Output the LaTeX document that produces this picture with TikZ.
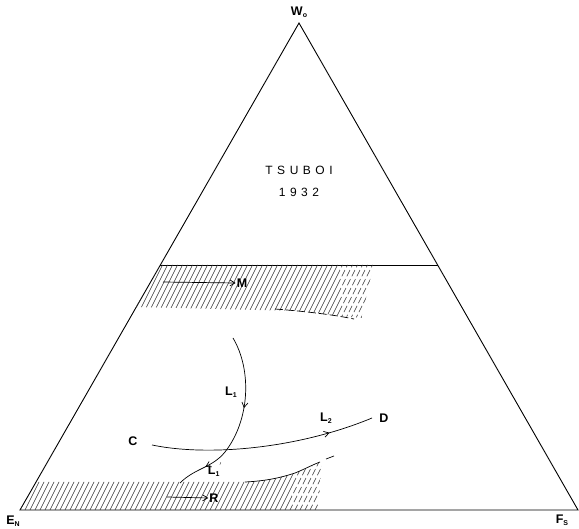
\documentclass[tikz,border=0pt]{standalone}
\usepackage{fontspec}
\setmainfont{Liberation Sans}
\usetikzlibrary{decorations.markings,arrows.meta}
\newcommand{\sbs}[1]{\raisebox{-0.3ex}{\fontsize{7}{8}\selectfont #1}}
\begin{document}
\begin{tikzpicture}[x=1pt,y=-1pt,
  edge/.style={line width=0.9pt},
  thin/.style={line width=0.7pt},
  hatch/.style={line width=0.5pt,black!80},
  lab/.style={font=\fontsize{12.5}{14}\selectfont\bfseries, inner sep=1pt},
  tip/.style={-{Straight Barb[length=5pt,width=6pt]}},
  midarrow/.style={postaction={decorate},decoration={markings,mark=at position #1 with {\arrow{Straight Barb[length=5pt,width=6pt]}}}}
]
\useasboundingbox (0,0) rectangle (579,529);
% triangle
\coordinate (W) at (299,23);
\coordinate (E) at (20,510);
\coordinate (F) at (578,510);
\draw[edge] (E) -- (W) -- (F) -- cycle;
\coordinate (HL) at (160,265);
\coordinate (HR) at (438,265);
\draw[edge] (HL) -- (HR);
% upper hatched band
\begin{scope}
  \clip (160,265) -- (340,265) -- (340,316) -- (300,311) -- (136,307) -- cycle;
  \foreach \i in {-300,-295,...,500} \draw[hatch] (\i,330) -- ++(34,-68);
\end{scope}
\begin{scope}
  \clip (340,265) -- (374,265) -- (362,318) -- (340,316) -- cycle;
  \foreach \i in {-300,-295,...,500} \draw[hatch,dash pattern=on 7pt off 3pt] (\i,330) -- ++(34,-68);
\end{scope}
\draw[thin,dash pattern=on 8pt off 3pt] (275,309) .. controls (300,311) and (330,314) .. (354,319);
% lower hatched band
\begin{scope}
  \clip (36,482) -- (245,482) .. controls (265,481) and (280,478) .. (295,473) -- (290,510) -- (20,510) -- cycle;
  \foreach \i in {-300,-295,...,500} \draw[hatch] (\i,520) -- ++(34,-68);
\end{scope}
\begin{scope}
  \clip (295,473) .. controls (305,469) and (315,465) .. (322,461) -- (318,510) -- (290,510) -- cycle;
  \foreach \i in {-300,-295,...,500} \draw[hatch,dash pattern=on 7pt off 3pt] (\i,520) -- ++(34,-68);
\end{scope}
\draw[thin] (245,482) .. controls (265,481) and (280,478) .. (295,473) .. controls (305,469) and (312,465) .. (320,462);
\draw[thin] (326,459) -- (334,456);
% labels
\node[lab] (w0) at (299,12) {W\sbs{o}};
\node[lab] (en) at (13,521) {E\sbs{N}};
\node[lab] (fs) at (562,520) {F\sbs{S}};
\node[lab,font=\fontsize{12}{14}\selectfont] (ts) at (299,170) {T\hspace{4.5pt}S\hspace{4.5pt}U\hspace{4.5pt}B\hspace{4.5pt}O\hspace{4.5pt}I};
\node[lab,font=\fontsize{12}{14}\selectfont] (yr) at (299,192) {1\hspace{4.5pt}9\hspace{4.5pt}3\hspace{4.5pt}2};
% arrows M and R
\node[lab] (M) at (242,283) {M};
\coordinate (m0) at (163,282);
\draw[thin,tip] (m0) -- (M.west);
\node[lab] (R) at (214,498) {R};
\coordinate (r0) at (167,497);
\draw[thin,tip] (r0) -- (R.west);
% curves
\node[lab] (C) at (133,441) {C};
\node[lab] (D) at (384,418) {D};
\coordinate (c0) at (152,445);
\coordinate (d0) at (372,418);
\draw[thin,midarrow=0.8] (c0) .. controls (210,457) and (300,448) .. (d0);
\coordinate (l0) at (233,338);
\coordinate (lx) at (225,452);
\coordinate (l9) at (180,483);
\draw[thin,midarrow=0.6] (l0) .. controls (252,370) and (250,420) .. (lx);
\draw[thin,midarrow=0.45] (lx) .. controls (212,468) and (195,468) .. (l9);
\node[lab] (L1) at (231,392) {L\sbs{1}};
\node[lab] (L2) at (326,418) {L\sbs{2}};
\node[lab] (L1p) at (215,470) {L\sbs{1}\raisebox{0.9ex}{\fontsize{7}{8}\selectfont $'$}};
\end{tikzpicture}
\end{document}
